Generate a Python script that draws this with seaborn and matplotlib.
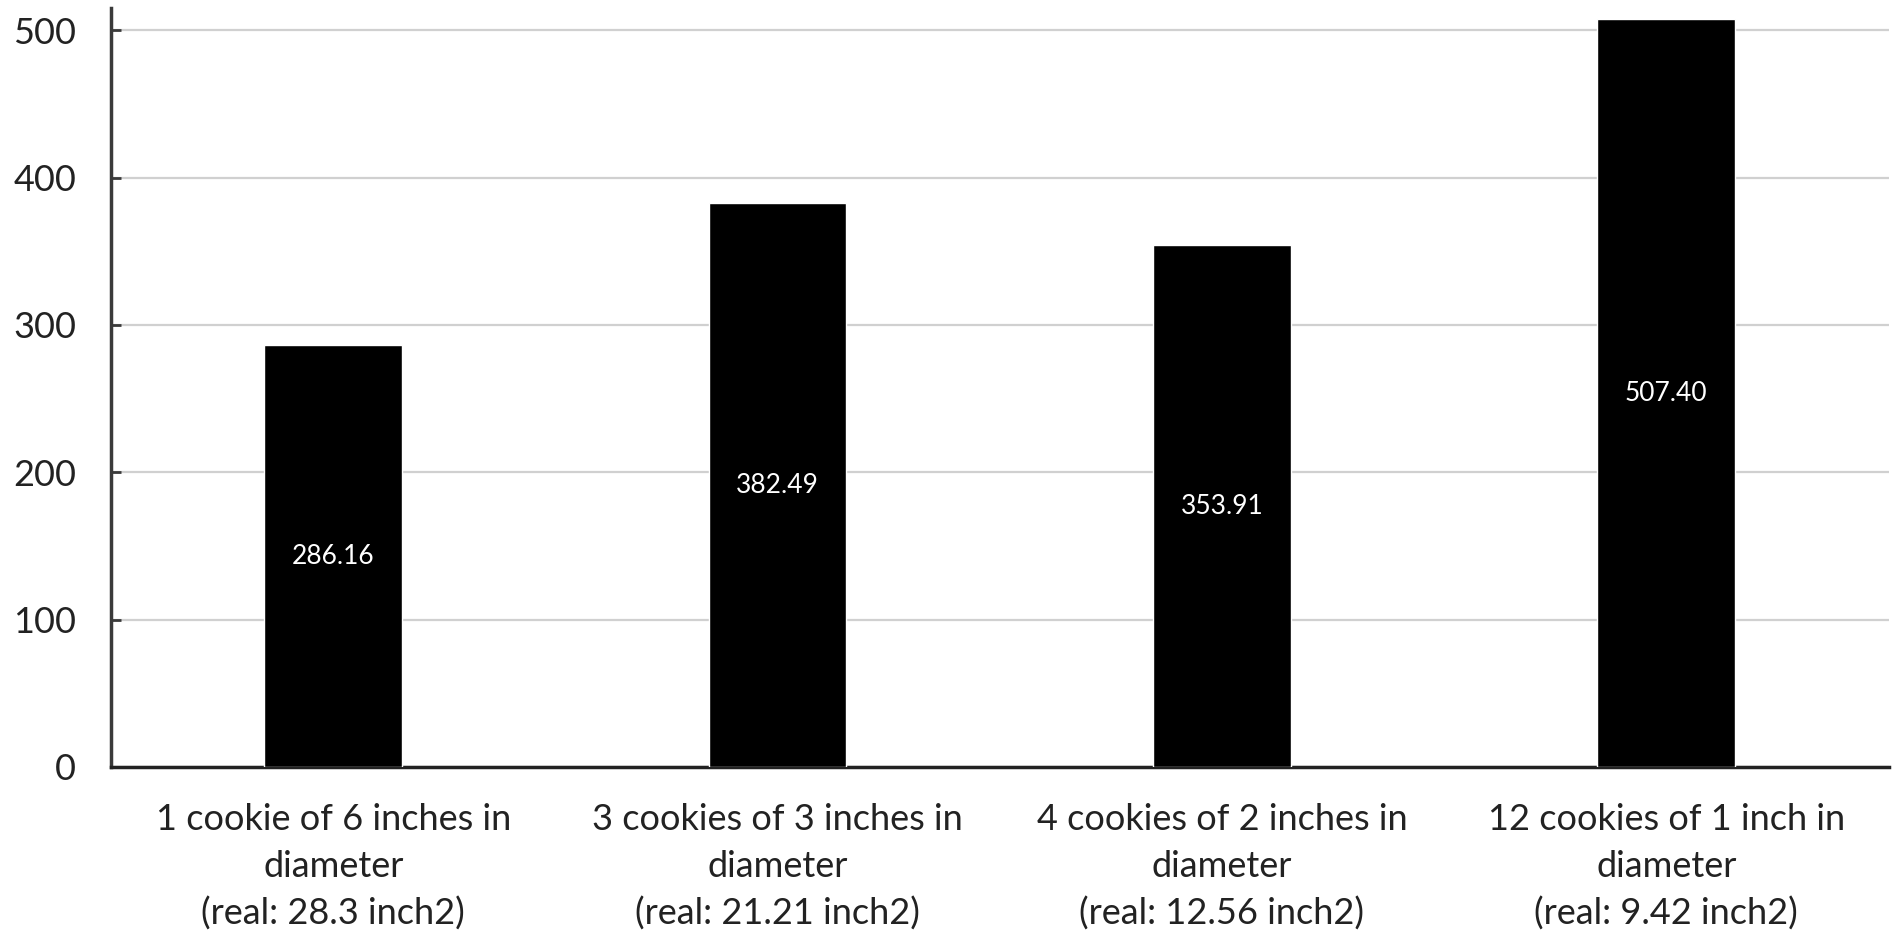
import matplotlib
matplotlib.use("Agg")
import matplotlib.pyplot as plt
import seaborn as sns
import pandas as pd

categories = [
    "1 cookie of 6 inches in\ndiameter\n(real: 28.3 inch2)",
    "3 cookies of 3 inches in\ndiameter\n(real: 21.21 inch2)",
    "4 cookies of 2 inches in\ndiameter\n(real: 12.56 inch2)",
    "12 cookies of 1 inch in\ndiameter\n(real: 9.42 inch2)",
]
values = [286.16, 382.49, 353.91, 507.40]
y_ticks = [0, 100, 200, 300, 400, 500]

sns.set_theme(style="white")
plt.rcParams["font.family"] = ["Lato", "DejaVu Sans"]

df = pd.DataFrame({"label": categories, "value": values})

fig = plt.figure(figsize=(18.98, 9.35), dpi=100)
ax = fig.add_axes([0.0585, 0.1797, 0.9365, 0.8117])

sns.barplot(data=df, x="label", y="value", color="black", width=0.31,
            saturation=1, ax=ax, zorder=3)

ax.set_ylim(0, 515)
ax.set_xlim(-0.5, len(categories) - 0.5)
ax.set_yticks(y_ticks)
ax.set_yticklabels([str(t) for t in y_ticks])
ax.yaxis.grid(True, color="#d0d0d0", linewidth=1.6, zorder=0)
ax.set_axisbelow(True)
ax.set_xlabel("")
ax.set_ylabel("")

for side in ("top", "right"):
    ax.spines[side].set_visible(False)
ax.spines["left"].set_color("#3a3a3a")
ax.spines["left"].set_linewidth(2.5)
ax.spines["bottom"].set_color("#222222")
ax.spines["bottom"].set_linewidth(2.5)

ax.tick_params(axis="y", direction="in", length=7, width=2, color="#3a3a3a",
               pad=25, labelsize=26, labelcolor="#222222", left=True)
ax.tick_params(axis="x", length=0, pad=26, labelsize=26, labelcolor="#222222")
for lab in ax.get_xticklabels():
    lab.set_linespacing(1.5)

# value labels centered inside each bar
for bar, v in zip(ax.patches, values):
    ax.text(bar.get_x() + bar.get_width() / 2, v / 2, f"{v:.2f}",
            ha="center", va="center", color="white", fontsize=19, zorder=4)

fig.savefig("out.png", dpi=100, facecolor="white")
